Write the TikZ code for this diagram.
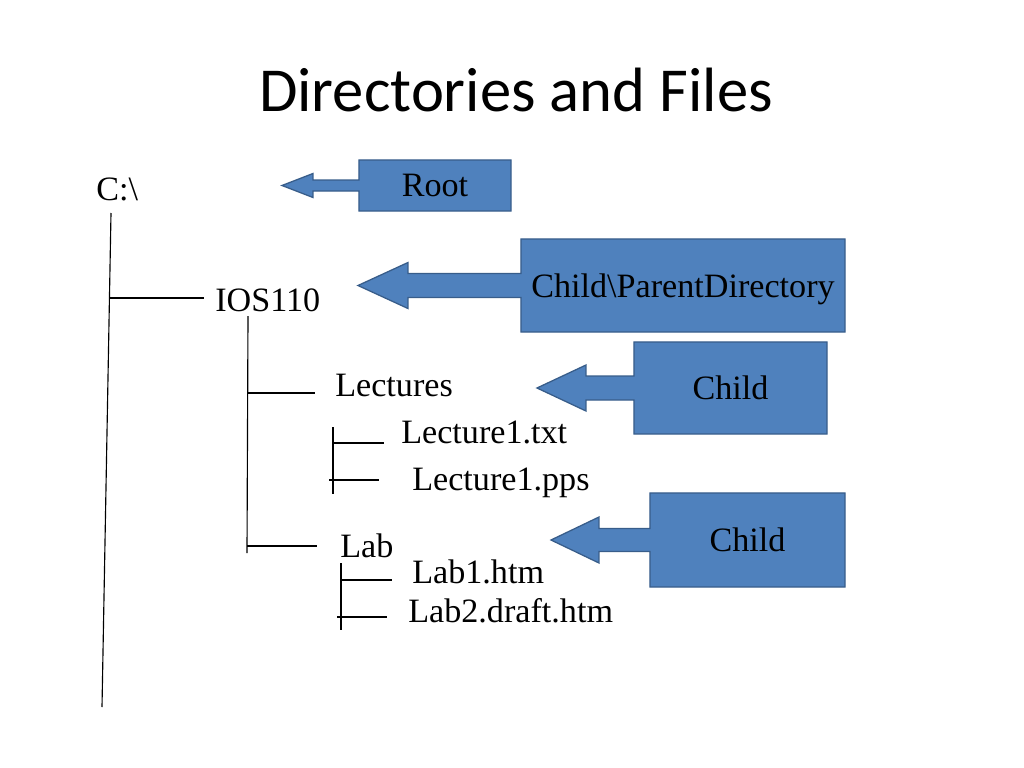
\documentclass[tikz,border=0pt]{standalone}
\usepackage{fontspec}
\setmainfont{Liberation Serif}
\newfontfamily\titlefont{Carlito}
\usetikzlibrary{calc, backgrounds}

\definecolor{calloutfill}{HTML}{4F81BD}
\definecolor{calloutline}{HTML}{385D8A}

\tikzset{
  fname/.style={anchor=base west, inner sep=0pt, font=\fontsize{24}{28}\selectfont},
  callbox/.style={inner sep=0pt, outer sep=0pt, text depth=0pt,
    font=\fontsize{24}{28}\selectfont},
  callout/.style={fill=calloutfill, draw=calloutline, line width=0.9pt},
  branch/.style={line width=0.8pt}
}

\begin{document}
\begin{tikzpicture}[x=0.703pt, y=-0.703pt]
\useasboundingbox (0,0) rectangle (1024,768);
% Title
\node [anchor=base, inner sep=0pt, font=\titlefont\fontsize{44}{50}\selectfont]
  (title) at (516,111) {Directories and Files};
% Names in the tree
\node [fname] (croot) at (96,200) {C:\textbackslash};
\node [fname] (ios) at (215,311) {IOS110};
\node [fname] (lect) at (335,396) {Lectures};
\node [fname] (ltxt) at (401,443) {Lecture1.txt};
\node [fname] (lpps) at (412,490) {Lecture1.pps};
\node [fname] (lab) at (340,557) {Lab};
\node [fname] (lab1) at (412,583) {Lab1.htm};
\node [fname] (lab2) at (408,622) {Lab2.draft.htm};
% Ends of the tree lines
\coordinate (t1) at (111,213);
\coordinate (t2) at (102,707);
\coordinate (i1) at (248,316);
\coordinate (i2) at (247,553);
\coordinate (e1) at (333,427);
\coordinate (e2) at (333,494);
\coordinate (b1) at (341,563);
\coordinate (b2) at (341,630);
% Vertical lines
\draw [branch] (t1) -- (t2);
\draw [branch] (i1) -- (i2);
\draw [branch] (e1) -- (e2);
\draw [branch] (b1) -- (b2);
% Horizontal lines
\draw [branch] (109.5,298) -- (204,298);
\draw [branch] (247,393) -- (315,393);
\draw [branch] (247,546) -- (317,546);
\draw [branch] (333,443) -- (384,443);
\draw [branch] (329,480) -- (379,480);
\draw [branch] (341,580) -- (392,580);
\draw [branch] (337,617) -- (387,617);
% Boxes of the callouts
\node [callbox, minimum width=106.9pt, minimum height=35.9pt]
  (root) at (435,185.5) {Root};
\node [callbox, minimum width=227.8pt, minimum height=65.4pt]
  (pardir) at (683,285.5) {Child\textbackslash ParentDirectory};
\node [callbox, minimum width=135.7pt, minimum height=64.7pt]
  (child1) at (730.5,388) {Child};
\node [callbox, minimum width=137.1pt, minimum height=66.1pt]
  (child2) at (747.5,540) {Child};
% Box and arrow as one shape, behind the text
\begin{scope}[on background layer]
\foreach \n/\s/\h/\b/\t in {root/5.5/12/46/77, pardir/12/23/113/163,
    child1/12/23/48/97, child2/11.5/23/51/99}
  \draw [callout] (\n.north west) -- (\n.north east) -- (\n.south east)
    -- (\n.south west) -- ($(\n.west)+(0,\s)$) -- ($(\n.west)+(-\b,\s)$)
    -- ($(\n.west)+(-\b,\h)$) -- ($(\n.west)+(-\t,0)$)
    -- ($(\n.west)+(-\b,-\h)$) -- ($(\n.west)+(-\b,-\s)$)
    -- ($(\n.west)+(0,-\s)$) -- cycle;
\end{scope}
\end{tikzpicture}
\end{document}
